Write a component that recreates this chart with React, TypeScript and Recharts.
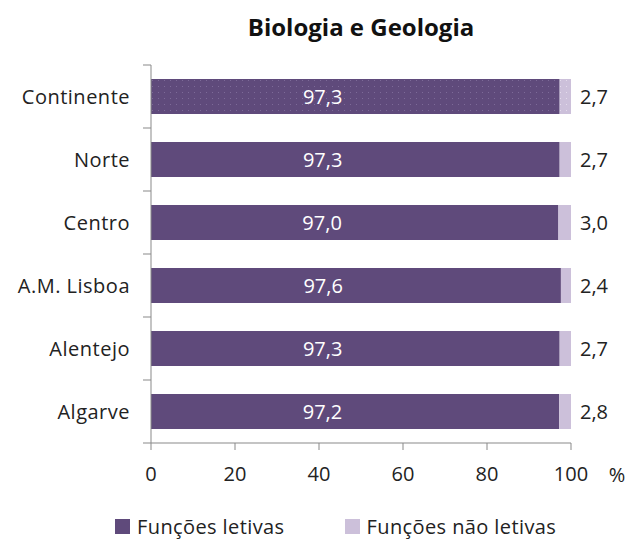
import { BarChart, Bar, XAxis, YAxis, Cell, LabelList, Label } from "recharts";

const regioes = ["Continente", "Norte", "Centro", "A.M. Lisboa", "Alentejo", "Algarve"];
const funcoesLetivas = [97.3, 97.3, 97.0, 97.6, 97.3, 97.2];
const funcoesNaoLetivas = [2.7, 2.7, 3.0, 2.4, 2.7, 2.8];
const xTicks = [0, 20, 40, 60, 80, 100];
const series = [
  { key: "letivas", name: "Funções letivas", color: "#5f4a7b" },
  { key: "naoLetivas", name: "Funções não letivas", color: "#ccc0da" },
];

const data = regioes.map((regiao, i) => ({
  regiao,
  letivas: funcoesLetivas[i],
  naoLetivas: funcoesNaoLetivas[i],
}));

const W = 643;
const H = 540;
const MARGIN = { top: 65, right: 72, bottom: 57, left: 0 };
const X_AXIS_H = 40;
const PLOT_H = H - MARGIN.top - MARGIN.bottom - X_AXIS_H;
const FONT = "'Open Sans', sans-serif";
const FS = 20;
const AXIS = "#898989";

const fmt = (v: number) => v.toFixed(1).replace(".", ",");

// rótulos das regiões + traços nas fronteiras das categorias
function RegiaoTick(props: any) {
  const { x, y, payload, index } = props;
  const band = PLOT_H / regioes.length;
  const ax = x + 21;
  return (
    <g>
      <line x1={ax - 8} x2={ax} y1={y - band / 2} y2={y - band / 2} stroke={AXIS} />
      {index === regioes.length - 1 && (
        <line x1={ax - 8} x2={ax} y1={y + band / 2} y2={y + band / 2} stroke={AXIS} />
      )}
      <text
        x={x}
        y={y}
        textAnchor="end"
        dominantBaseline="central"
        fontSize={FS}
        fill="#222"
        fontFamily={FONT}
        letterSpacing={0.5}
      >
        {payload.value}
      </text>
    </g>
  );
}

function LetivasLabel(props: any) {
  const { x, y, width, height, value } = props;
  return (
    <text
      x={x + width * 0.42}
      y={y + height / 2}
      textAnchor="middle"
      dominantBaseline="central"
      fontSize={FS}
      fill="#fff"
      fontFamily={FONT}
    >
      {fmt(value)}
    </text>
  );
}

function NaoLetivasLabel(props: any) {
  const { x, y, width, height, value } = props;
  return (
    <text
      x={x + width + 9}
      y={y + height / 2}
      textAnchor="start"
      dominantBaseline="central"
      fontSize={FS}
      fill="#222"
      fontFamily={FONT}
    >
      {fmt(value)}
    </text>
  );
}

export default function App() {
  return (
    <div style={{ position: "absolute", left: 0, top: 0, width: W, height: H, background: "#fff", fontFamily: FONT }}>
      <div
        style={{
          position: "absolute",
          top: 10,
          left: 151,
          width: 420,
          textAlign: "center",
          fontSize: 24,
          fontWeight: 700,
          color: "#111",
        }}
      >
        Biologia e Geologia
      </div>
      <BarChart width={W} height={H} data={data} layout="vertical" margin={MARGIN} barSize={35}>
        <defs>
          <pattern id="pontosEscuro" width="6" height="6" patternUnits="userSpaceOnUse">
            <rect width="6" height="6" fill="#5f4a7b" />
            <rect x="2" y="2" width="1" height="1" fill="#7d6a98" />
          </pattern>
          <pattern id="pontosClaro" width="6" height="6" patternUnits="userSpaceOnUse">
            <rect width="6" height="6" fill="#ccc0da" />
            <rect x="2" y="2" width="1" height="1" fill="#e4dcec" />
          </pattern>
        </defs>
        <XAxis
          type="number"
          domain={[0, 100]}
          ticks={xTicks}
          height={X_AXIS_H}
          tickSize={7}
          tickMargin={17}
          stroke={AXIS}
          tick={{ fontSize: FS, fill: "#222", fontFamily: FONT }}
        >
          <Label
            content={(p: any) => (
              <text
                x={p.viewBox.x + p.viewBox.width + 46}
                y={p.viewBox.y + 31}
                textAnchor="middle"
                dominantBaseline="central"
                fontSize={FS}
                fill="#222"
                fontFamily={FONT}
              >
                %
              </text>
            )}
          />
        </XAxis>
        <YAxis
          type="category"
          dataKey="regiao"
          width={151}
          tickSize={8}
          tickMargin={13}
          tickLine={false}
          stroke={AXIS}
          tick={<RegiaoTick />}
        />
        <Bar dataKey="letivas" stackId="a" name={series[0].name} fill={series[0].color} isAnimationActive={false}>
          {data.map((d, i) => (
            <Cell key={d.regiao} fill={i === 0 ? "url(#pontosEscuro)" : series[0].color} />
          ))}
          <LabelList dataKey="letivas" content={<LetivasLabel />} />
        </Bar>
        <Bar dataKey="naoLetivas" stackId="a" name={series[1].name} fill={series[1].color} isAnimationActive={false}>
          {data.map((d, i) => (
            <Cell key={d.regiao} fill={i === 0 ? "url(#pontosClaro)" : series[1].color} />
          ))}
          <LabelList dataKey="naoLetivas" content={<NaoLetivasLabel />} />
        </Bar>
      </BarChart>
      {/* legenda */}
      <div
        style={{
          position: "absolute",
          top: 513,
          left: 115,
          display: "flex",
          fontSize: FS,
          color: "#222",
          letterSpacing: 0.4,
        }}
      >
        {series.map((s, i) => (
          <div key={s.key} style={{ display: "flex", alignItems: "center", marginRight: i === 0 ? 60 : 0 }}>
            <span style={{ width: 15, height: 15, background: s.color, marginRight: 7, display: "inline-block" }} />
            {s.name}
          </div>
        ))}
      </div>
    </div>
  );
}
